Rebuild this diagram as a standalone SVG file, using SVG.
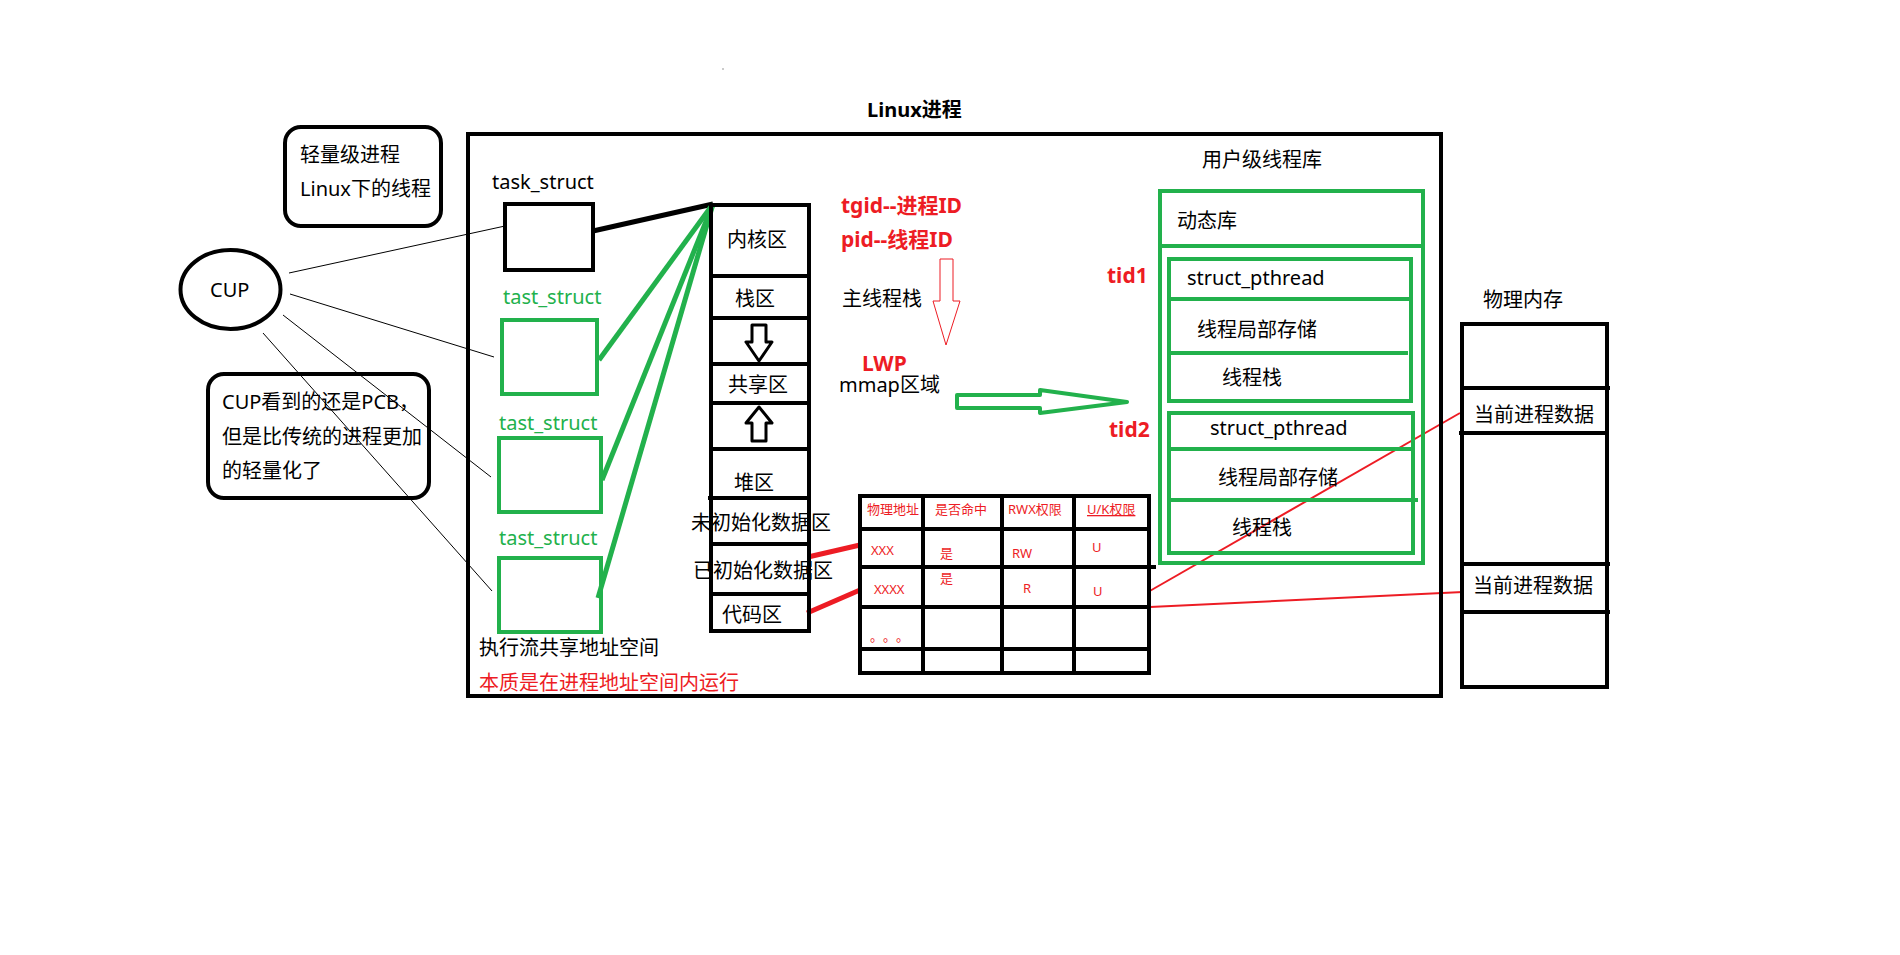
<svg xmlns="http://www.w3.org/2000/svg" width="1900" height="955" viewBox="0 0 1900 955">
  <style>
    text { font-family: "Noto Sans", "Noto Sans CJK SC", sans-serif; font-size: 20px; fill: #000; }
    .g { fill: #22b14c; }
    .r { fill: #ed1c24; }
    .b { font-weight: bold; font-size: 21px; }
    .sm { font-size: 13px; fill: #ed1c24; }
    .box { fill: none; stroke: #000; stroke-width: 4; }
    .gbox { fill: none; stroke: #22b14c; stroke-width: 4; }
    .thin { stroke: #000; stroke-width: 1; fill: none; }
    .gl { stroke: #22b14c; stroke-width: 5; fill: none; }
    .rl { stroke: #ed1c24; stroke-width: 5; fill: none; }
    .rt { stroke: #ed1c24; stroke-width: 2; fill: none; }
  </style>
  <rect width="1900" height="955" fill="#fff"/>
  <circle cx="723" cy="69" r="0.8" fill="#888"/>

  <!-- connectors -->
  <g id="connectors">
    <line class="thin" x1="289" y1="273" x2="505" y2="226"/>
    <line class="thin" x1="290" y1="294" x2="494" y2="357"/>
    <line class="thin" x1="283" y1="315" x2="491" y2="477"/>
    <line class="thin" x1="263" y1="333" x2="492" y2="591"/>
    <line x1="593" y1="231" x2="713" y2="204" stroke="#000" stroke-width="5"/>
    <line class="gl" x1="713" y1="204" x2="599" y2="360"/>
    <line class="gl" x1="713" y1="204" x2="602" y2="480"/>
    <line class="gl" x1="713" y1="204" x2="598" y2="598"/>
    <line class="rl" x1="808" y1="557" x2="860" y2="545"/>
    <line class="rl" x1="807" y1="613" x2="860" y2="590"/>
    <line class="rt" x1="1148" y1="592" x2="1460" y2="413"/>
    <line class="rt" x1="1150" y1="607" x2="1463" y2="592"/>
    <!-- hollow arrows -->
    <polygon points="940,259 953,259 953,301 960,301 946,345 933,301 940,301" fill="none" stroke="#ed1c24" stroke-width="1"/>
    <polygon points="957,395 1040,395 1040,390 1127,402 1040,413 1040,408 957,408" fill="none" stroke="#22b14c" stroke-width="4" stroke-linejoin="round"/>
  </g>

  <!-- notes -->
  <g id="note-lwp">
    <rect x="285" y="127" width="156" height="99" rx="16" class="box" stroke-width="3"/>
    <text x="300" y="162">轻量级进程</text>
    <text x="300" y="196">Linux下的线程</text>
  </g>
  <g id="cpu">
    <ellipse cx="230.5" cy="289.5" rx="50" ry="39.5" class="box" stroke-width="3"/>
    <text x="210" y="297">CUP</text>
  </g>
  <g id="note-pcb">
    <rect x="208" y="374" width="221" height="124" rx="16" class="box" stroke-width="3"/>
    <text x="222" y="409">CUP看到的还是PCB，</text>
    <text x="222" y="444">但是比传统的进程更加</text>
    <text x="222" y="478">的轻量化了</text>
  </g>

  <!-- process -->
  <g id="process">
    <text x="867" y="117" class="b" style="font-size:20px">Linux进程</text>
    <rect x="468" y="134" width="973" height="562" class="box" stroke-width="3"/>
    <text x="479" y="655">执行流共享地址空间</text>
    <text x="479" y="690" class="r">本质是在进程地址空间内运行</text>
  </g>

  <g id="task-main">
    <text x="492" y="189">task_struct</text>
    <rect x="505" y="204" width="88" height="66" class="box"/>
  </g>
  <g id="task-1">
    <text x="503" y="304" class="g">tast_struct</text>
    <rect x="502" y="320" width="95" height="74" class="gbox" stroke-width="5"/>
  </g>
  <g id="task-2">
    <text x="499" y="430" class="g">tast_struct</text>
    <rect x="499" y="438" width="102" height="74" class="gbox" stroke-width="5"/>
  </g>
  <g id="task-3">
    <text x="499" y="545" class="g">tast_struct</text>
    <rect x="499" y="558" width="102" height="74" class="gbox" stroke-width="5"/>
  </g>

  <!-- address space -->
  <g id="address-space">
    <rect x="711" y="205" width="98" height="426" class="box"/>
    <line x1="711" y1="276" x2="809" y2="276" stroke="#000" stroke-width="4"/>
    <line x1="711" y1="318" x2="811" y2="318" stroke="#000" stroke-width="4"/>
    <line x1="711" y1="364" x2="811" y2="364" stroke="#000" stroke-width="4"/>
    <line x1="711" y1="403" x2="811" y2="403" stroke="#000" stroke-width="4"/>
    <line x1="711" y1="449" x2="809" y2="449" stroke="#000" stroke-width="4"/>
    <line x1="708" y1="498" x2="809" y2="498" stroke="#000" stroke-width="4"/>
    <line x1="711" y1="544" x2="809" y2="544" stroke="#000" stroke-width="4"/>
    <line x1="711" y1="594" x2="811" y2="594" stroke="#000" stroke-width="4"/>
    <text x="727" y="247">内核区</text>
    <text x="735" y="306">栈区</text>
    <polygon points="752,325 766,325 766,342 772,342 759,361 746,342 752,342" fill="none" stroke="#000" stroke-width="3" stroke-linejoin="round"/>
    <text x="728" y="392">共享区</text>
    <polygon points="759,407 772,423 766,423 766,441 752,441 752,423 746,423" fill="none" stroke="#000" stroke-width="3" stroke-linejoin="round"/>
    <text x="734" y="490">堆区</text>
    <text x="691" y="530">未初始化数据区</text>
    <text x="693" y="578">已初始化数据区</text>
    <text x="722" y="622">代码区</text>
  </g>

  <g id="ids">
    <text x="841" y="213" class="r b">tgid--进程ID</text>
    <text x="841" y="247" class="r b">pid--线程ID</text>
    <text x="842" y="306">主线程栈</text>
    <text x="862" y="371" class="r b">LWP</text>
    <text x="839" y="392">mmap区域</text>
    <text x="1107" y="283" class="r b">tid1</text>
    <text x="1109" y="437" class="r b">tid2</text>
  </g>

  <!-- page table -->
  <g id="page-table">
    <rect x="860" y="496" width="289" height="177" class="box"/>
    <line x1="923" y1="496" x2="923" y2="673" stroke="#000" stroke-width="4"/>
    <line x1="1002" y1="496" x2="1002" y2="673" stroke="#000" stroke-width="4"/>
    <line x1="1074" y1="496" x2="1074" y2="673" stroke="#000" stroke-width="4"/>
    <line x1="860" y1="529" x2="1151" y2="529" stroke="#000" stroke-width="4"/>
    <line x1="860" y1="567" x2="1156" y2="567" stroke="#000" stroke-width="4"/>
    <line x1="860" y1="607" x2="1151" y2="607" stroke="#000" stroke-width="4"/>
    <line x1="858" y1="649" x2="1151" y2="649" stroke="#000" stroke-width="4"/>
    <text x="867" y="514" class="sm">物理地址</text>
    <text x="935" y="514" class="sm">是否命中</text>
    <text x="1008" y="514" class="sm">RWX权限</text>
    <text x="1087" y="514" class="sm" text-decoration="underline">U/K权限</text>
    <text x="871" y="555" class="sm">XXX</text>
    <text x="940" y="558" class="sm">是</text>
    <text x="1012" y="558" class="sm">RW</text>
    <text x="1092" y="552" class="sm">U</text>
    <text x="874" y="594" class="sm">XXXX</text>
    <text x="940" y="583" class="sm">是</text>
    <text x="1023" y="593" class="sm">R</text>
    <text x="1093" y="596" class="sm">U</text>
    <text x="870 883 896" y="641" class="sm">。。。</text>
  </g>

  <!-- thread library -->
  <g id="thread-lib">
    <text x="1202" y="167">用户级线程库</text>
    <rect x="1160" y="191" width="263" height="372" class="gbox"/>
    <line x1="1160" y1="246" x2="1423" y2="246" stroke="#22b14c" stroke-width="4"/>
    <text x="1177" y="228">动态库</text>
  </g>
  <g id="thread-1">
    <rect x="1169" y="259" width="242" height="142" class="gbox"/>
    <line x1="1169" y1="299" x2="1409" y2="299" stroke="#22b14c" stroke-width="4"/>
    <line x1="1169" y1="353" x2="1408" y2="353" stroke="#22b14c" stroke-width="4"/>
    <text x="1187" y="285">struct_pthread</text>
    <text x="1197" y="337">线程局部存储</text>
    <text x="1222" y="385">线程栈</text>
  </g>
  <g id="thread-2">
    <rect x="1169" y="413" width="244" height="140" class="gbox"/>
    <line x1="1169" y1="449" x2="1413" y2="449" stroke="#22b14c" stroke-width="4"/>
    <line x1="1169" y1="500" x2="1418" y2="500" stroke="#22b14c" stroke-width="4"/>
    <text x="1210" y="435">struct_pthread</text>
    <text x="1218" y="485">线程局部存储</text>
    <text x="1232" y="535">线程栈</text>
  </g>

  <!-- physical memory -->
  <g id="phys-mem">
    <text x="1483" y="307">物理内存</text>
    <rect x="1462" y="324" width="145" height="363" class="box"/>
    <line x1="1462" y1="388" x2="1610" y2="388" stroke="#000" stroke-width="4"/>
    <line x1="1459" y1="433" x2="1607" y2="433" stroke="#000" stroke-width="4"/>
    <line x1="1462" y1="564" x2="1610" y2="564" stroke="#000" stroke-width="4"/>
    <line x1="1462" y1="612" x2="1610" y2="612" stroke="#000" stroke-width="4"/>
    <text x="1474" y="422">当前进程数据</text>
    <text x="1473" y="593">当前进程数据</text>
  </g>
</svg>
